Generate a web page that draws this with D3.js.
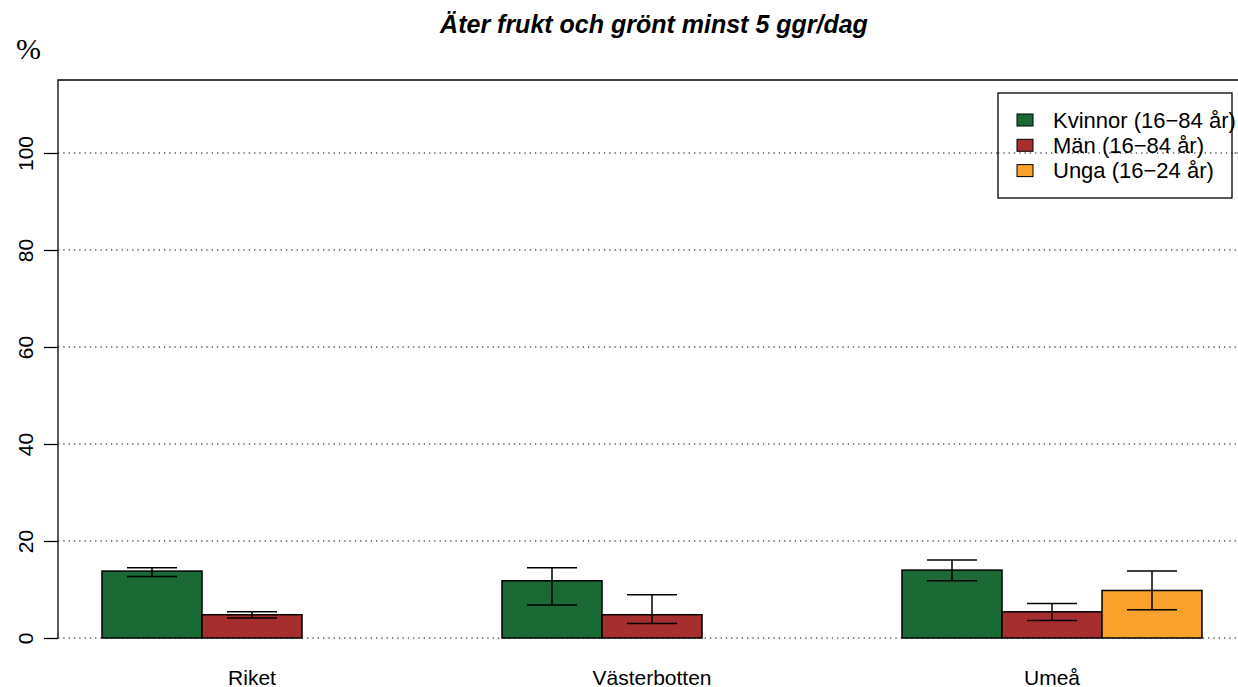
<!DOCTYPE html>
<html>
<head>
<meta charset="utf-8">
<title>Äter frukt och grönt</title>
<script src="https://d3js.org/d3.v7.min.js"></script>
<style>
    body{ margin: 0; background-color: #fff; }
    .axis text{ font-family: 'Liberation Sans', Arial, sans-serif; font-size: 21px; fill: #000; }
    .axis path{ stroke: none; }
    .axis line{ stroke: #000; stroke-width: 1.3px; }
    .grid line{ stroke: #000; stroke-width: 1px; stroke-dasharray: 1.3,4; }
</style>
</head>
<body>
<div id="chart"></div>
<script>
    var categories = ['Riket', 'Västerbotten', 'Umeå'];
    var series = ['Kvinnor (16−84 år)', 'Män (16−84 år)', 'Unga (16−24 år)'];
    var colors = ['#1b6934', '#a62e2f', '#f8a12c'];

    // value, lower and upper limit per category
    var kvinnor      = [13.8, 11.8, 14.0];
    var kvinnorLow   = [12.7, 6.8, 11.8];
    var kvinnorHigh  = [14.5, 14.5, 16.1];
    var man          = [4.8, 4.8, 5.4];
    var manLow       = [4.1, 3.0, 3.6];
    var manHigh      = [5.4, 8.9, 7.1];
    var unga         = [null, null, 9.8];
    var ungaLow      = [null, null, 5.8];
    var ungaHigh     = [null, null, 13.8];

    var yTicks = [0, 20, 40, 60, 80, 100];

    var width = 1238;
    var height = 687;

    var svg = d3.select('#chart')
        .append('svg')
        .attr('width', width)
        .attr('height', height);

    var plotLeft = 58, plotTop = 80, plotBottom = 638;

    var y = d3.scaleLinear().domain([0, 115.05]).range([plotBottom, plotTop]);

    var x0 = d3.scaleBand()
        .domain(categories)
        .range([102, 1202])
        .paddingInner(0.25)
        .paddingOuter(0);

    var x1 = d3.scaleBand()
        .domain(series)
        .range([0, x0.bandwidth()]);

    var rows = [
        {name: series[0], v: kvinnor, lo: kvinnorLow, hi: kvinnorHigh, c: colors[0]},
        {name: series[1], v: man, lo: manLow, hi: manHigh, c: colors[1]},
        {name: series[2], v: unga, lo: ungaLow, hi: ungaHigh, c: colors[2]}
    ];

    var data = [];
    rows.forEach(function(r){
        categories.forEach(function(cat, i){
            if (r.v[i] != null)
                data.push({cat: cat, s: r.name, v: r.v[i], lo: r.lo[i], hi: r.hi[i], c: r.c});
        });
    });

    // grid
    svg.append('g')
        .attr('class', 'grid')
        .selectAll('line')
        .data(yTicks)
        .enter().append('line')
        .attr('x1', plotLeft)
        .attr('x2', width)
        .attr('y1', function(d){ return y(d); })
        .attr('y2', function(d){ return y(d); });

    // bars
    svg.append('g')
        .selectAll('rect')
        .data(data)
        .enter().append('rect')
        .attr('x', function(d){ return x0(d.cat) + x1(d.s); })
        .attr('y', function(d){ return y(d.v); })
        .attr('width', x1.bandwidth())
        .attr('height', function(d){ return y(0) - y(d.v); })
        .style('fill', function(d){ return d.c; })
        .style('stroke', '#000')
        .style('stroke-width', '1.5px');

    // error bars
    var eb = svg.append('g')
        .selectAll('g')
        .data(data)
        .enter().append('g')
        .style('stroke', '#000')
        .style('stroke-width', '1.5px');

    var cx = function(d){ return x0(d.cat) + x1(d.s) + x1.bandwidth() / 2; };

    eb.append('line')
        .attr('x1', cx).attr('x2', cx)
        .attr('y1', function(d){ return y(d.lo); })
        .attr('y2', function(d){ return y(d.hi); });
    eb.append('line')
        .attr('x1', function(d){ return cx(d) - 25; })
        .attr('x2', function(d){ return cx(d) + 25; })
        .attr('y1', function(d){ return y(d.lo); })
        .attr('y2', function(d){ return y(d.lo); });
    eb.append('line')
        .attr('x1', function(d){ return cx(d) - 25; })
        .attr('x2', function(d){ return cx(d) + 25; })
        .attr('y1', function(d){ return y(d.hi); })
        .attr('y2', function(d){ return y(d.hi); });

    // frame: left and top
    svg.append('path')
        .attr('d', 'M' + plotLeft + ',' + plotBottom + 'V' + plotTop + 'H' + width)
        .style('fill', 'none')
        .style('stroke', '#000')
        .style('stroke-width', '1.3px');

    // y axis, labels turned like R's las=0
    var yAxis = svg.append('g')
        .attr('class', 'axis')
        .attr('transform', 'translate(' + plotLeft + ',0)')
        .call(d3.axisLeft(y).tickValues(yTicks).tickSize(14).tickFormat(d3.format('d')));

    yAxis.selectAll('.tick text')
        .attr('x', null)
        .attr('dy', null)
        .attr('text-anchor', 'middle')
        .attr('transform', 'translate(-25,0) rotate(-90)');

    // x labels
    svg.append('g')
        .attr('class', 'axis')
        .selectAll('text')
        .data(categories)
        .enter().append('text')
        .attr('x', function(d){ return x0(d) + x0.bandwidth() / 2; })
        .attr('y', 685)
        .attr('text-anchor', 'middle')
        .text(function(d){ return d; });

    // title
    svg.append('text')
        .attr('x', 654)
        .attr('y', 33)
        .attr('text-anchor', 'middle')
        .text('Äter frukt och grönt minst 5 ggr/dag')
        .style('font-family', 'Liberation Sans, Arial, sans-serif')
        .style('font-size', '25px')
        .style('font-weight', 'bold')
        .style('font-style', 'italic');

    svg.append('text')
        .attr('x', 28.5)
        .attr('y', 59)
        .attr('text-anchor', 'middle')
        .text('%')
        .style('font-family', 'Liberation Serif, serif')
        .style('font-size', '30px');

    // legend
    var lg = svg.append('g').attr('transform', 'translate(998,93)');
    lg.append('rect')
        .attr('width', 234).attr('height', 105)
        .style('fill', '#fff')
        .style('stroke', '#000')
        .style('stroke-width', '1.3px');
    var items = lg.selectAll('g.item')
        .data(rows)
        .enter().append('g')
        .attr('class', 'item')
        .attr('transform', function(d, i){ return 'translate(0,' + (27 + i * 25.3) + ')'; });
    items.append('rect')
        .attr('x', 19).attr('y', -6)
        .attr('width', 16).attr('height', 12)
        .style('fill', function(d){ return d.c; })
        .style('stroke', '#000')
        .style('stroke-width', '1px');
    items.append('text')
        .attr('x', 55).attr('y', 7.5)
        .text(function(d){ return d.name; })
        .style('font-family', 'Liberation Sans, Arial, sans-serif')
        .style('font-size', '22px');

    // grid line at 100 runs over the legend in the original
    svg.append('line')
        .attr('class', 'grid')
        .attr('x1', 998).attr('x2', width)
        .attr('y1', y(100)).attr('y2', y(100))
        .style('stroke', '#000')
        .style('stroke-width', '1px')
        .style('stroke-dasharray', '1.3,4');
</script>
</body>
</html>
